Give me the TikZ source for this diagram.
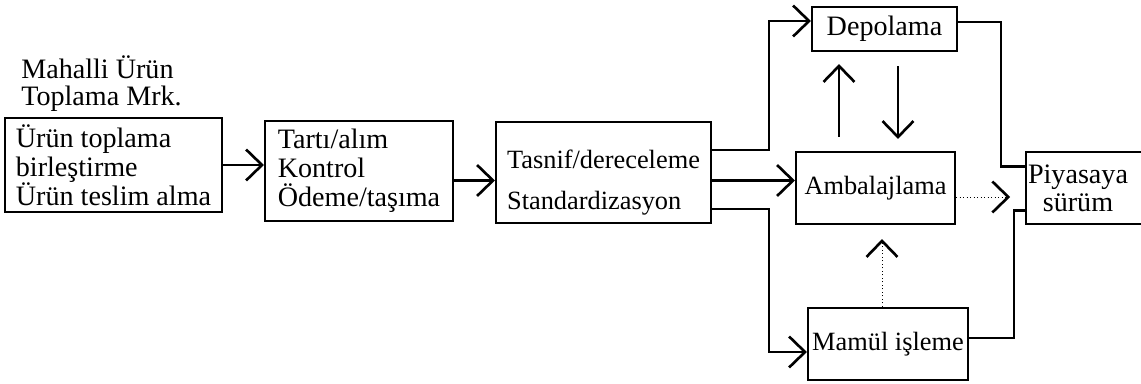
\documentclass[tikz,border=0pt]{standalone}
\usepackage{fontspec}
\setmainfont{Liberation Serif}
\usetikzlibrary{arrows.meta,positioning}

\begin{document}
\begin{tikzpicture}[
  box/.style={draw, line width=1.2pt, inner sep=1pt},
  big/.style={font=\fontsize{16}{16.5}\selectfont},
  small/.style={font=\fontsize{15}{16}\selectfont},
  flow/.style={line width=1.2pt, -{Straight Barb[length=3.2mm,width=6.2mm,line width=1.5pt]}},
  link/.style={line width=1.2pt},
  hint/.style={line width=0.5pt, dash pattern=on 0.6pt off 1.4pt, -{Straight Barb[length=3.2mm,width=6.2mm,line width=1.5pt]}}
]
\useasboundingbox (0,0) rectangle (22.82,7.68);

% Left chain
\node[box, big, align=left, minimum width=4.34cm, minimum height=1.88cm] (collect) at (2.27,4.38) {Ürün toplama\\birleştirme\\Ürün teslim alma};
\node[anchor=south west, inner sep=0pt, align=left, font=\fontsize{16}{15.5}\selectfont] (centre) at ([xshift=0.34cm, yshift=0.1cm]collect.north west) {Mahalli Ürün\\Toplama Mrk.};
\node[box, big, align=left, minimum width=3.76cm, minimum height=2.0cm] (weigh) at (7.18,4.26) {Tartı/alım\\Kontrol\\Ödeme/taşıma};
\node[box, align=left, font=\fontsize{15}{23.3}\selectfont, minimum width=4.30cm, minimum height=2.02cm] (grade) at (12.07,4.23) {\rule{0pt}{22pt}Tasnif/dereceleme\\Standardizasyon};

% Right part
\node[box, big, minimum width=2.90cm, minimum height=0.88cm] (store) at (17.69,7.10) {Depolama};
\node[box, small, minimum width=3.18cm, minimum height=1.44cm] (pack) at (17.51,3.92) {Ambalajlama};
\node[box, small, minimum width=3.20cm, minimum height=1.44cm] (process) at (17.76,0.80) {Mamül işleme};
\node[box, align=center, font=\fontsize{16}{16}\selectfont, minimum width=2.60cm, minimum height=1.44cm] (market) at (21.86,3.92) {Piyasaya\hspace*{0.6cm}\\sürüm\hspace*{0.6cm}};

\draw[flow] (collect.east) -- (collect.east -| weigh.west);
\draw[flow] ([yshift=-0.16cm]grade.west -| weigh.east) -- ([yshift=-0.16cm]grade.west);

\draw[flow] ([yshift=0.45cm]grade.east) -- ++(1.14,0) |- ([yshift=0.16cm]store.west);
\draw[flow] ([yshift=-0.16cm]grade.east) -- ([yshift=-0.16cm]grade.east -| pack.west);
\draw[flow] ([yshift=-0.73cm]grade.east) -- ++(1.14,0) |- ([yshift=-0.16cm]process.west);

\draw[flow, shorten <=0.28cm, shorten >=0.24cm] ([xshift=-0.73cm]pack.north) -- ([xshift=-0.73cm]pack.north |- store.south);
\draw[flow, shorten <=0.28cm, shorten >=0.24cm] ([xshift=0.45cm]pack.north |- store.south) -- ([xshift=0.45cm]pack.north);
\draw[hint, shorten >=0.28cm] ([xshift=0.13cm]pack.south |- process.north) -- ([xshift=0.13cm]pack.south);
\draw[hint, shorten >=0.3cm] ([yshift=-0.18cm]pack.east) -- ([yshift=-0.18cm]market.west);

\draw[link] ([yshift=0.14cm]store.east) -- ++(0.86,0) |- ([yshift=0.43cm]market.west);
\draw[link] ([yshift=0.12cm]process.east) -- ++(0.9,0) |- ([yshift=-0.45cm]market.west);
\end{tikzpicture}
\end{document}
